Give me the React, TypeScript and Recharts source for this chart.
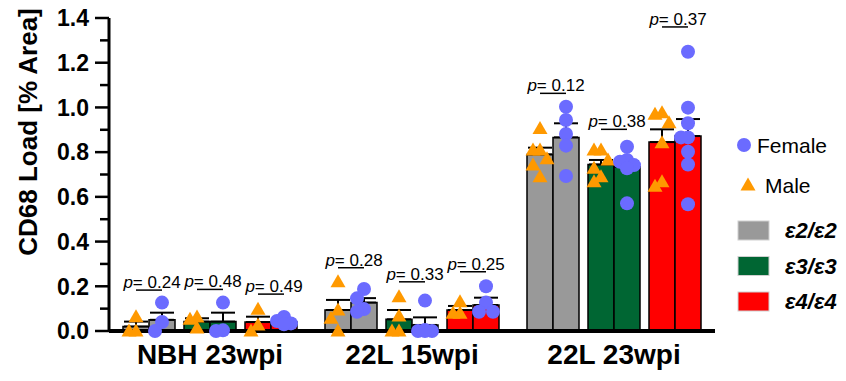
import React from "react";
import {
  ComposedChart,
  Bar,
  ErrorBar,
  Scatter,
  XAxis,
  YAxis,
  ReferenceLine,
} from "recharts";

const groups = ["NBH 23wpi", "22L 15wpi", "22L 23wpi"];
const genotypes = ["ε2/ε2", "ε3/ε3", "ε4/ε4"];
const genoColors = ["#999999", "#006633", "#ff0000"];

// bar heights (group mean) per time point
const e2MaleMean = [0.02, 0.094, 0.79];
const e2FemaleMean = [0.05, 0.127, 0.866];
const e3MaleMean = [0.042, 0.052, 0.745];
const e3FemaleMean = [0.042, 0.027, 0.735];
const e4MaleMean = [0.04, 0.094, 0.845];
const e4FemaleMean = [0.04, 0.116, 0.872];

// SEM (upper whisker only)
const e2MaleSem = [0.022, 0.045, 0.03];
const e2FemaleSem = [0.032, 0.02, 0.063];
const e3MaleSem = [0.015, 0.042, 0.02];
const e3FemaleSem = [0.04, 0.034, 0.025];
const e4MaleSem = [0.024, 0.018, 0.057];
const e4FemaleSem = [0.01, 0.033, 0.076];

// individual animals
const e2MalePts = [[0.064, 0, 0], [0.22, 0.094, 0.057, 0], [0.906, 0.81, 0.81, 0.77, 0.742, 0.69]];
const e2FemalePts = [[0.127, 0.04, 0], [0.188, 0.146, 0.098, 0.086], [1.003, 0.944, 0.881, 0.829, 0.693]];
const e3MalePts = [[0.063, 0.053, 0.013], [0.153, 0.067, 0, 0], [0.81, 0.81, 0.765, 0.728, 0.69, 0.668]];
const e3FemalePts = [[0.127, 0.003, 0], [0.136, 0.005, 0, 0, 0], [0.824, 0.765, 0.757, 0.742, 0.728, 0.571]];
const e4MalePts = [[0.097, 0.027, 0], [0.131, 0.079, 0.079], [0.976, 0.97, 0.932, 0.842, 0.668, 0.648]];
const e4FemalePts = [[0.063, 0.045, 0.034, 0.03], [0.2, 0.127, 0.086, 0.086], [1.249, 0.999, 0.929, 0.866, 0.866, 0.802, 0.745, 0.567]];

// male vs female p-values, rows = genotype, cols = time point
const pValues = [
  ["0.24", "0.28", "0.12"],
  ["0.48", "0.33", "0.38"],
  ["0.49", "0.25", "0.37"],
];
const pBracketY = [
  [0.183, 0.283, 1.063],
  [0.186, 0.22, 0.902],
  [0.165, 0.265, 1.36],
];

const yTicks = [0, 0.1, 0.2, 0.3, 0.4, 0.5, 0.6, 0.7, 0.8, 0.9, 1.0, 1.1, 1.2, 1.3, 1.4];

const FONT = "'Liberation Sans', Arial, Helvetica, sans-serif";
const W = 846;
const H = 381;
const MARGIN = { top: 18, right: 131, bottom: 20, left: 0 };
const Y_W = 109;
const X_H = 30;
const PLOT_W = W - MARGIN.right - MARGIN.left - Y_W;
const PLOT_H = H - MARGIN.top - MARGIN.bottom - X_H;
const PX_PER_UNIT = PLOT_H / 1.4;
const BAR = 26;
const GAP = 9;
const BAND = PLOT_W / groups.length;
const FEMALE = "#6b6bff";
const MALE = "#ff9900";

const means = [e2MaleMean, e2FemaleMean, e3MaleMean, e3FemaleMean, e4MaleMean, e4FemaleMean];
const sems = [e2MaleSem, e2FemaleSem, e3MaleSem, e3FemaleSem, e4MaleSem, e4FemaleSem];
const pts = [e2MalePts, e2FemalePts, e3MalePts, e3FemalePts, e4MalePts, e4FemalePts];

// centre of bar slot i (0..5) measured from the start of its band, matching recharts' layout
const slotStart = Math.floor((BAND - (6 * BAR + 2 * GAP)) / 2);
const slotCenter = (i: number) => slotStart + i * BAR + Math.floor(i / 2) * GAP + BAR / 2;

// simple dot-plot spread so points at similar heights don't sit on top of each other
function spread(values: number[]): number[] {
  const step = 7;
  const minD = 11;
  const order = values.map((_, i) => i).sort((a, b) => values[b] - values[a]);
  const placed: { dx: number; py: number }[] = [];
  const out = values.map(() => 0);
  for (const i of order) {
    const py = values[i] * PX_PER_UNIT;
    let best = 0;
    let bestD = -1;
    for (const dx of [0, -step, step]) {
      const d = placed.reduce((m, p) => Math.min(m, Math.hypot(p.dx - dx, p.py - py)), Infinity);
      if (d >= minD) {
        best = dx;
        break;
      }
      if (d > bestD) {
        bestD = d;
        best = dx;
      }
    }
    placed.push({ dx: best, py });
    out[i] = best;
  }
  return out;
}

const tableData = groups.map((group, g) => {
  const row: any = { group, sp1: 0, sp2: 0 };
  means.forEach((m, s) => {
    row["b" + s] = m[g];
    row["b" + s + "Err"] = [0, sems[s][g]];
  });
  return row;
});

const scatterFor = (slots: number[]) =>
  slots.flatMap((s) =>
    groups.flatMap((_, g) => {
      const vals = pts[s][g];
      const dxs = spread(vals);
      return vals.map((v, i) => ({ x: g + (slotCenter(s) + dxs[i]) / BAND, y: v }));
    })
  );

const maleData = scatterFor([0, 2, 4]);
const femaleData = scatterFor([1, 3, 5]);

const Circle = (props: any) => <circle cx={props.cx} cy={props.cy} r={7} fill={FEMALE} />;
const Tri = (props: any) => {
  const { cx, cy } = props;
  return <path d={`M${cx},${cy - 7.5}L${cx + 7.5},${cy + 5.5}L${cx - 7.5},${cy + 5.5}Z`} fill={MALE} />;
};

function YTick({ x, y, payload }: any) {
  const v = payload.value;
  const major = Math.round(v * 10) % 2 === 0;
  return (
    <g>
      <line x1={x - (major ? 14 : 9)} x2={x} y1={y} y2={y} stroke="#000" strokeWidth={2.5} />
      {major && (
        <text x={x - 20} y={y} dy="0.36em" textAnchor="end" fontSize={23} fontWeight="bold" fontFamily={FONT} fill="#000">
          {v.toFixed(1)}
        </text>
      )}
    </g>
  );
}

const YTitle = () => (
  <text
    x={28}
    y={132}
    transform="rotate(-90 28 132)"
    textAnchor="middle"
    dominantBaseline="central"
    fontSize={26}
    fontWeight="bold"
    fontFamily={FONT}
    fill="#000"
  >
    CD68 Load [% Area]
  </text>
);

const pLabel = (text: string) => (props: any) => {
  const vb = props.viewBox;
  if (!vb) return null;
  return (
    <text x={vb.x + vb.width / 2 + 3} y={vb.y - 2} textAnchor="middle" fontSize={17} fontFamily={FONT} fill="#000">
      <tspan fontStyle="italic">p</tspan>= {text}
    </text>
  );
};

function Legend() {
  return (
    <svg width={130} height={200} style={{ position: "absolute", left: 716, top: 120 }}>
      <circle cx={28} cy={25} r={7} fill={FEMALE} />
      <text x={41} y={25} dy="0.36em" fontSize={21} fontFamily={FONT}>Female</text>
      <path d="M32,57.5L39.5,70.5L24.5,70.5Z" fill={MALE} />
      <text x={49} y={65} dy="0.36em" fontSize={21} fontFamily={FONT}>Male</text>
      {genotypes.map((name, i) => (
        <g key={name}>
          <rect x={22} y={101 + i * 35.5} width={31} height={19} fill={genoColors[i]} stroke="#d0d0d0" strokeWidth={1} />
          <text x={69} y={110.5 + i * 35.5} dy="0.36em" fontSize={22} fontWeight="bold" fontStyle="italic" fontFamily={FONT}>
            {name}
          </text>
        </g>
      ))}
    </svg>
  );
}

export default function App() {
  return (
    <div style={{ position: "absolute", left: 0, top: 0, width: W, height: H, background: "#fff" }}>
      <ComposedChart width={W} height={H} data={tableData} margin={MARGIN} barGap={0}>
        <XAxis
          xAxisId="cat"
          dataKey="group"
          height={X_H}
          interval={0}
          tickLine={false}
          tickSize={0}
          tickMargin={13}
          axisLine={{ stroke: "#000", strokeWidth: 4 }}
          tick={{ fill: "#000", fontSize: 28, fontWeight: "bold", fontFamily: FONT }}
        />
        <XAxis xAxisId="num" type="number" dataKey="x" domain={[0, 3]} hide allowDataOverflow />
        <YAxis
          width={Y_W}
          domain={[0, 1.4]}
          ticks={yTicks}
          interval={0}
          tickLine={false}
          tickSize={0}
          tickMargin={0}
          tick={<YTick />}
          axisLine={{ stroke: "#000", strokeWidth: 3 }}
          label={YTitle}
        />
        {[0, 1, -1, 2, 3, -2, 4, 5].map((s, i) =>
          s < 0 ? (
            <Bar
              key={"sp" + i}
              xAxisId="cat"
              dataKey={s === -1 ? "sp1" : "sp2"}
              barSize={GAP}
              fill="none"
              legendType="none"
              isAnimationActive={false}
            />
          ) : (
            <Bar
              key={"b" + s}
              xAxisId="cat"
              dataKey={"b" + s}
              barSize={BAR}
              fill={genoColors[Math.floor(s / 2)]}
              stroke="#000"
              strokeWidth={1.5}
              isAnimationActive={false}
            >
              <ErrorBar dataKey={"b" + s + "Err"} direction="y" width={12} stroke="#000" strokeWidth={2} />
            </Bar>
          )
        )}
        {pValues.flatMap((row, k) =>
          row.map((p, g) => (
            <ReferenceLine
              key={`p${k}-${g}`}
              xAxisId="num"
              ifOverflow="visible"
              segment={[
                { x: g + slotCenter(2 * k) / BAND, y: pBracketY[k][g] },
                { x: g + slotCenter(2 * k + 1) / BAND, y: pBracketY[k][g] },
              ]}
              stroke="#000"
              strokeWidth={1.5}
              label={pLabel(p)}
            />
          ))
        )}
        <Scatter xAxisId="num" data={maleData} dataKey="y" shape={<Tri />} isAnimationActive={false} />
        <Scatter xAxisId="num" data={femaleData} dataKey="y" shape={<Circle />} isAnimationActive={false} />
      </ComposedChart>
      <Legend />
    </div>
  );
}
